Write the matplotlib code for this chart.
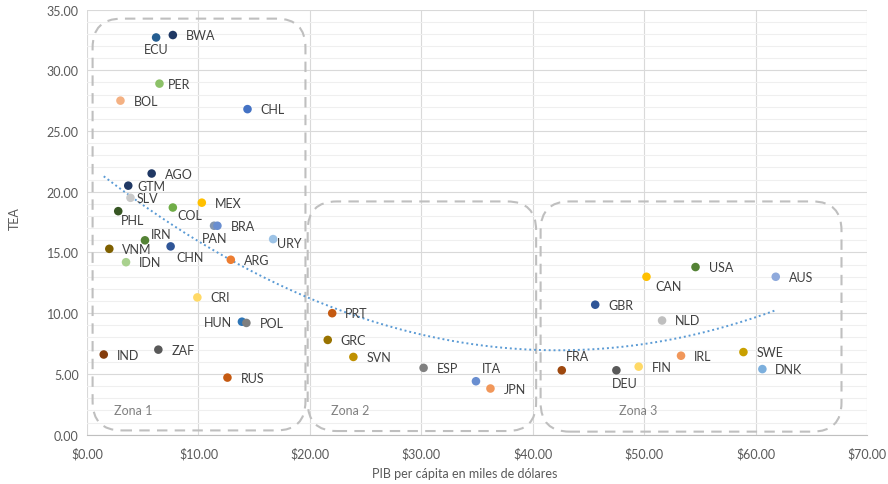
import numpy as np
import matplotlib
matplotlib.use("Agg")
import matplotlib.pyplot as plt
from matplotlib.patches import FancyBboxPatch
from matplotlib.ticker import MultipleLocator, FuncFormatter

plt.rcParams['font.family'] = ['Lato', 'DejaVu Sans']

countries = ["ECU", "BWA", "PER", "BOL", "CHL", "AGO", "GTM", "SLV", "MEX", "COL",
             "PHL", "PAN", "BRA", "IRN", "CHN", "VNM", "URY", "ARG", "IDN", "CRI",
             "HUN", "POL", "IND", "ZAF", "RUS", "PRT", "GRC", "SVN", "ESP", "ITA",
             "JPN", "FRA", "DEU", "FIN", "IRL", "SWE", "DNK", "CAN", "USA", "AUS",
             "GBR", "NLD"]
gdp = [6.2, 7.7, 6.5, 3.0, 14.4, 5.8, 3.7, 3.9, 10.3, 7.7,
       2.8, 11.4, 11.7, 5.2, 7.5, 2.0, 16.7, 12.9, 3.5, 9.9,
       13.9, 14.3, 1.5, 6.4, 12.6, 22.0, 21.6, 23.9, 30.2, 34.9,
       36.2, 42.6, 47.5, 49.5, 53.3, 58.9, 60.6, 50.2, 54.6, 61.8,
       45.6, 51.6]
tea = [32.7, 32.9, 28.9, 27.5, 26.8, 21.5, 20.5, 19.5, 19.1, 18.7,
       18.4, 17.2, 17.2, 16.0, 15.5, 15.3, 16.1, 14.4, 14.2, 11.3,
       9.3, 9.2, 6.6, 7.0, 4.7, 10.0, 7.8, 6.4, 5.5, 4.4,
       3.8, 5.3, 5.3, 5.6, 6.5, 6.8, 5.4, 13.0, 13.8, 13.0,
       10.7, 9.4]
zone_names = ["Zona 1", "Zona 2", "Zona 3"]

# styling (not data)
colors = ["#255E91", "#1F3864", "#8CC168", "#F4B183", "#4472C4", "#203864", "#203864", "#C9C9C9", "#FFC000", "#70AD47",
          "#375623", "#8497B0", "#698ED0", "#548235", "#2F5597", "#7F6000", "#9DC3E6", "#ED7D31", "#A9D18E", "#FFD966",
          "#2E75B6", "#7F7F7F", "#843C0C", "#595959", "#C55A11", "#C55A11", "#997300", "#BF9000", "#808080", "#698ED0",
          "#F1975A", "#9E480E", "#595959", "#FFD966", "#F1975A", "#C9A000", "#7CAFDD", "#FFC000", "#548235", "#8FAADC",
          "#2F5597", "#BFBFBF"]
# label offsets in pixels (dx, dy, ha)
offsets = {
    "ECU": (0, -12, "center"), "PER": (8, 0, "left"), "GTM": (9, 0, "left"), "SLV": (6, 0, "left"),
    "COL": (5, -7, "left"), "PHL": (3, -9, "left"), "PAN": (-12, -12, "left"), "IRN": (6, 6, "left"),
    "CHN": (6, -11, "left"), "URY": (4, -4, "left"), "HUN": (-10, 0, "right"), "ITA": (6, 13, "left"),
    "FRA": (4, 14, "left"), "DEU": (8, -13, "center"), "CAN": (9, -9, "left"),
}

fig = plt.figure(figsize=(8.88, 4.85), dpi=100)
ax = fig.add_axes([0.098, 0.1017, 0.8785, 0.8766])
ax.set_xlim(0, 70)
ax.set_ylim(0, 35)

ax.xaxis.set_major_locator(MultipleLocator(10))
ax.yaxis.set_major_locator(MultipleLocator(5))
ax.yaxis.set_minor_locator(MultipleLocator(1))
ax.xaxis.set_major_formatter(FuncFormatter(lambda v, p: f"${v:.2f}"))
ax.yaxis.set_major_formatter(FuncFormatter(lambda v, p: f"{v:.2f}"))
ax.grid(which="major", axis="both", color="#D9D9D9", linewidth=0.8)
ax.grid(which="minor", axis="y", color="#EFEFEF", linewidth=0.8)
ax.set_axisbelow(True)
for s in ["top", "right", "left"]:
    ax.spines[s].set_visible(False)
ax.spines["bottom"].set_color("#BFBFBF")
ax.tick_params(axis="both", which="both", length=0, labelsize=9, colors="#595959", pad=6)
ax.tick_params(axis="x", pad=9)

# zones
zone_boxes = [(0.5, 0.35, 19.1, 33.9), (19.8, 0.3, 20.5, 18.9), (40.7, 0.25, 27.0, 18.95)]
for (x0, y0, w, h) in zone_boxes:
    p = FancyBboxPatch((x0, y0), w, h, boxstyle="round,pad=0,rounding_size=2.6",
                       mutation_aspect=0.92, fill=False, edgecolor="#BFBFBF",
                       linewidth=1.5, linestyle=(0, (5, 3.5)), zorder=1)
    ax.add_patch(p)
zone_label_pos = [(4.1, 2.0), (23.6, 2.0), (49.5, 2.0)]
for name, (zx, zy) in zip(zone_names, zone_label_pos):
    ax.text(zx, zy, name, ha="center", va="center", fontsize=9, color="#808080")

# trend line (2nd-order polynomial fit of the data)
coef = np.polyfit(gdp, tea, 2)
xs = np.linspace(min(gdp), max(gdp), 200)
ax.plot(xs, np.polyval(coef, xs), linestyle=(0, (1, 1.5)), color="#5B9BD5", linewidth=1.4, zorder=2)

ax.scatter(gdp, tea, s=38, c=colors, zorder=3, linewidths=0)

for c, x, y in zip(countries, gdp, tea):
    dx, dy, ha = offsets.get(c, (13, 0, "left"))
    ax.annotate(c, (x, y), xytext=(dx, dy), textcoords="offset pixels",
                ha=ha, va="center", fontsize=9, color="#404040", zorder=4)

fig.text(0.523, 0.023, "PIB per cápita en miles de dólares", ha="center", va="center",
         fontsize=9, color="#595959")
fig.text(0.017, 0.55, "TEA", ha="center", va="center", rotation=90, fontsize=9, color="#595959")

fig.savefig("out.png", dpi=100, facecolor="white")
